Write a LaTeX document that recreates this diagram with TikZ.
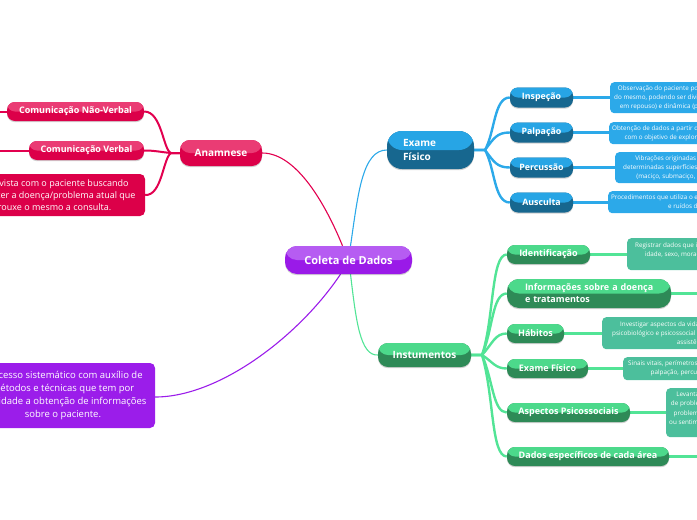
\documentclass[tikz,border=0pt]{standalone}
\usepackage{fontspec}
\setmainfont{Open Sans}
\usetikzlibrary{backgrounds,calc,shadows}
\definecolor{redT}{HTML}{EA3C74}
\definecolor{redB}{HTML}{DC0049}
\definecolor{redL}{HTML}{E2004F}
\definecolor{purT}{HTML}{B65CF2}
\definecolor{purB}{HTML}{9A1AE8}
\definecolor{purL}{HTML}{9B1DEA}
\definecolor{bluT}{HTML}{27A5E5}
\definecolor{bluB}{HTML}{17678F}
\definecolor{bluL}{HTML}{2CA9E9}
\definecolor{grnT}{HTML}{4CD98B}
\definecolor{grnB}{HTML}{2E8A57}
\definecolor{grnL}{HTML}{52E496}
\definecolor{tealD}{HTML}{4CBF9C}
\tikzset{
  pill/.style 2 args={rounded corners=8pt, fill=#2,
    drop shadow={shadow xshift=0pt, shadow yshift=-1.2pt, opacity=0.18, fill=black},
    path picture={\fill[#1] (path picture bounding box.north west) rectangle (path picture bounding box.east);},
    text=white, inner sep=0pt, font=\bfseries\fontsize{9}{11}\selectfont},
  redpill/.style={pill={redT}{redB}},
  blupill/.style={pill={bluT}{bluB}},
  grnpill/.style={pill={grnT}{grnB}},
  descbox/.style={rounded corners=4pt, text=white, font=\fontsize{6.3}{9}\selectfont,
    align=center, inner ysep=0pt, anchor=north west},
  bigbox/.style={rounded corners=5pt, text=white, font=\fontsize{9}{12.5}\selectfont,
    align=center, inner sep=0pt},
  thinline/.style={line width=1.1pt},
  thickline/.style={line width=2.4pt},
}
\begin{document}
\begin{tikzpicture}[x=1pt,y=-1pt]
\useasboundingbox (0,0) rectangle (697,520);
\clip (0,0) rectangle (697,520);

% central
\node[pill={purT}{purB}, rounded corners=12pt, minimum width=127pt, minimum height=28pt,
  font=\bfseries\fontsize{11}{13}\selectfont] (c) at (348.5,260) {Coleta de Dados};

% Anamnese branch
\node[redpill, rounded corners=10pt, minimum width=82pt, minimum height=26pt,
  font=\bfseries\fontsize{10}{12}\selectfont] (a) at (221,153) {Anamnese};
\node[redpill, minimum width=137pt, minimum height=19pt] (nv) at (75.5,111.5) {Comunicação Não-Verbal};
\node[redpill, minimum width=115pt, minimum height=19pt] (cv) at (86.5,150.5) {Comunicação Verbal};
\node[bigbox, fill=redB, minimum width=184pt, minimum height=42pt, font=\fontsize{9}{12}\selectfont] (ent) at (53,195)
  {Entrevista com o paciente buscando\\conhecer a doença/problema atual que\\trouxe o mesmo a consulta.};
\coordinate (nvl) at (0,111.5);
\coordinate (cvl) at (0,150.5);

% purple box
\node[bigbox, fill=purL, minimum width=184pt, minimum height=65pt, font=\fontsize{9.5}{13}\selectfont] (pb) at (63,395.5)
  {Processo sistemático com auxílio de\\métodos e técnicas que tem por\\finalidade a obtenção de informações\\sobre o paciente.};

% Exame Fisico branch
\node[pill={bluT}{bluB}, rounded corners=15pt, minimum width=87pt, minimum height=38pt,
  font=\bfseries\fontsize{10}{14}\selectfont, align=left, text width=55pt] (ef) at (430.5,150) {Exame\\Físico};
\node[blupill, minimum width=63pt, minimum height=20pt, font=\bfseries\fontsize{8.8}{11}\selectfont] (i1) at (541.5,97.5) {Inspeção};
\node[blupill, minimum width=63pt, minimum height=20pt, font=\bfseries\fontsize{8.8}{11}\selectfont] (i2) at (541.5,132.5) {Palpação};
\node[blupill, minimum width=63pt, minimum height=20pt, font=\bfseries\fontsize{8.8}{11}\selectfont] (i3) at (541.5,167.5) {Percussão};
\node[blupill, minimum width=63pt, minimum height=20pt, font=\bfseries\fontsize{8.8}{11}\selectfont] (i4) at (541.5,202.5) {Ausculta};

\node[descbox, fill=bluL, minimum height=31pt, inner xsep=4pt] (d1) at (610,82)
  {Observação do paciente por meio da visão do corpo\\do mesmo, podendo ser dividida em estática (paciente\\em repouso) e dinâmica (paciente em movimento).};
\node[descbox, fill=bluL, minimum height=22pt, inner xsep=3pt] (d2) at (609,122)
  {Obtenção de dados a partir do tato e da pressão manual,\\com o objetivo de explorar superfícies corporais.};
\node[descbox, fill=bluL, minimum height=31pt, inner xsep=8pt] (d3) at (615,152)
  {Vibrações originadas por golpes leves em\\determinadas superfícies do corpo, gerando sons\\(maciço, submaciço, claro ou timpânico).};
\node[descbox, fill=bluL, minimum height=22pt, inner xsep=3pt] (d4) at (608,191)
  {Procedimentos que utiliza o estetoscópio para ouvir sons\\e ruídos do corpo.};

% Instumentos branch
\node[grnpill, rounded corners=10pt, minimum width=93pt, minimum height=24pt,
  font=\bfseries\fontsize{10}{12}\selectfont] (ins) at (424.5,355) {Instumentos};
\node[grnpill, minimum width=83pt, minimum height=19pt] (g1) at (548.5,254.5) {Identificação};
\node[grnpill, rounded corners=12pt, minimum width=164pt, minimum height=29pt,
  font=\bfseries\fontsize{9}{12}\selectfont, align=left, text width=128pt] (g2) at (589,293.5)
  {\mbox{Informações sobre a doença}\\e tratamentos};
\node[grnpill, minimum width=57pt, minimum height=19pt] (g3) at (535.5,333.5) {Hábitos};
\node[grnpill, minimum width=81pt, minimum height=19pt] (g4) at (547.5,368.5) {Exame Físico};
\node[grnpill, minimum width=123pt, minimum height=19pt] (g5) at (568.5,412.5) {Aspectos Psicossociais};
\node[grnpill, minimum width=162pt, minimum height=19pt] (g6) at (588,456.5) {Dados específicos de cada área};
\coordinate (g2r) at (697,293.5);
\coordinate (g6r) at (697,456.5);

\node[descbox, fill=tealD, minimum height=32pt, inner xsep=8pt] (t1) at (627,238)
  {Registrar dados que identificam o paciente: nome,\\idade, sexo, moradia, profissão, estado civil,\\etc.};
\node[descbox, fill=tealD, minimum height=32pt, inner xsep=10pt] (t3) at (602,317)
  {Investigar aspectos da vida do paciente no âmbito\\psicobiológico e psicossocial que possam influenciar na\\assistência.};
\node[descbox, fill=tealD, minimum height=23pt, inner xsep=5pt] (t4) at (623,357)
  {Sinais vitais, perímetros, peso, altura, inspeção,\\palpação, percussão e ausculta.};
\node[descbox, fill=tealD, minimum height=49pt, inner xsep=3pt, font=\fontsize{6.3}{9.5}\selectfont] (t5) at (666,388)
  {Levantamento de possíveis casos\\de problemas familiares, financeiros,\\problemas no trabalho, depressão,\\ou sentimento de solidão e abandono\\etc.};

\begin{pgfonlayer}{background}
  % central links
  \draw[redL, thinline] ($(c.north)+(-6,0)$) .. controls (330,215) and (300,153) .. (a.east);
  \draw[bluL, thinline] ($(c.north)+(2,0)$) .. controls (358,195) and (362,150) .. (ef.west);
  \draw[grnL, thinline] ($(c.south)+(2,0)$) .. controls (356,320) and (360,356) .. (ins.west);
  \draw[purL, thinline] ($(c.south)+(-8,0)$) .. controls (300,335) and (220,397) .. (pb.east |- 0,397);
  % anamnese
  \draw[redL, line width=2pt] (a.west) -- (171,153) .. controls (163,150) and (162,111.5) .. (nv.east);
  \draw[redL, line width=2pt] (a.west) -- (171,153) .. controls (160,152) and (155,150.5) .. (cv.east);
  \draw[redL, line width=2pt] (a.west) -- (171,153) .. controls (163,158) and (162,196) .. (ent.east);
  \draw[redL, line width=2pt] (nv.west) -- (nvl);
  \draw[redL, line width=2pt] (cv.west) -- (cvl);
  % exame fisico
  \draw[bluL, thickline] (ef.east) -- (485,150) .. controls (495,132) and (494,97.5) .. (i1.west);
  \draw[bluL, thickline] (ef.east) -- (485,150) .. controls (494,138) and (497,132.5) .. (i2.west);
  \draw[bluL, thickline] (ef.east) -- (485,150) .. controls (494,162) and (497,167.5) .. (i3.west);
  \draw[bluL, thickline] (ef.east) -- (485,150) .. controls (495,168) and (494,202.5) .. (i4.west);
  \draw[bluL, thickline] (i1.east) -- (i1.east -| d1.west);
  \draw[bluL, thickline] (i2.east) -- (i2.east -| d2.west);
  \draw[bluL, thickline] (i3.east) -- (i3.east -| d3.west);
  \draw[bluL, thickline] (i4.east) -- (i4.east -| d4.west);
  % instumentos
  \draw[grnL, thickline] (ins.east) -- (482,355) .. controls (494,320) and (491,254.5) .. (g1.west);
  \draw[grnL, thickline] (ins.east) -- (482,355) .. controls (493,330) and (492,293.5) .. (g2.west);
  \draw[grnL, thickline] (ins.east) -- (482,355) .. controls (493,343) and (495,333.5) .. (g3.west);
  \draw[grnL, thickline] (ins.east) -- (482,355) .. controls (493,362) and (495,368.5) .. (g4.west);
  \draw[grnL, thickline] (ins.east) -- (482,355) .. controls (493,380) and (493,412.5) .. (g5.west);
  \draw[grnL, thickline] (ins.east) -- (482,355) .. controls (494,395) and (491,456.5) .. (g6.west);
  \draw[grnL, thickline] (g1.east) -- (g1.east -| t1.west);
  \draw[grnL, thickline] (g2.east) -- (g2r);
  \draw[grnL, thickline] (g3.east) -- (g3.east -| t3.west);
  \draw[grnL, thickline] (g4.east) -- (g4.east -| t4.west);
  \draw[grnL, thickline] (g5.east) -- (g5.east -| t5.west);
  \draw[grnL, thickline] (g6.east) -- (g6r);
\end{pgfonlayer}
\end{tikzpicture}
\end{document}
